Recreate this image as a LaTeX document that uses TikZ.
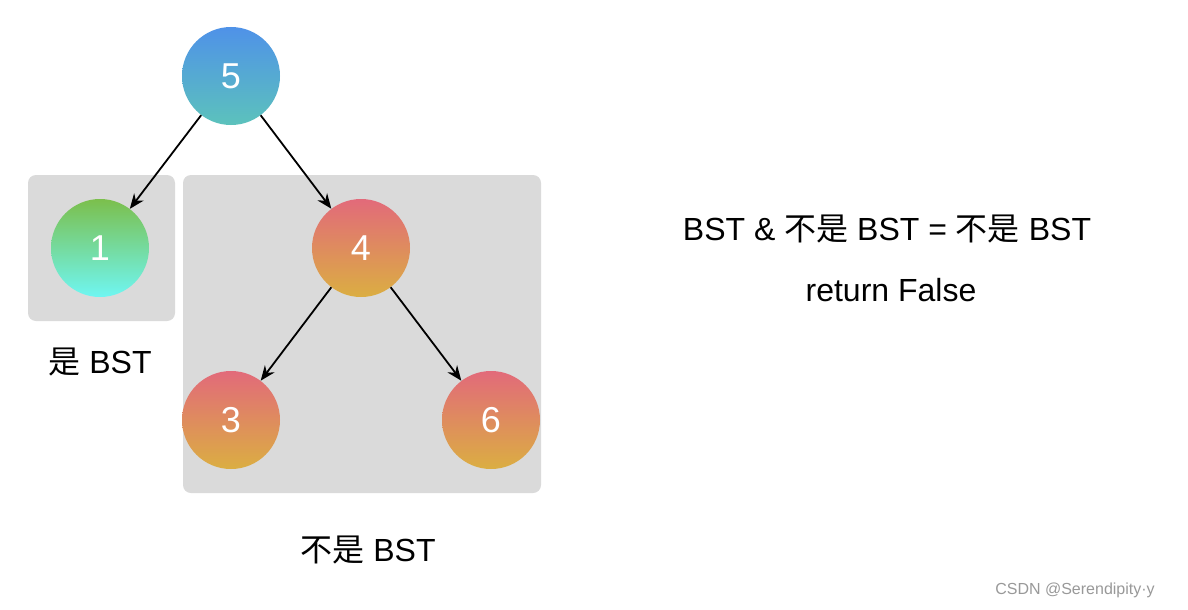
\documentclass[tikz,border=0pt]{standalone}
\usepackage{fontspec}
\setmainfont{Liberation Sans}
\newfontfamily\cjk{Noto Sans CJK SC}
\usetikzlibrary{arrows.meta}
\begin{document}
\begin{tikzpicture}[x=1pt,y=-1pt,
  nd/.style={circle,minimum size=98pt,inner sep=0pt,text=white,font=\fontsize{36}{40}\selectfont},
  blue/.style={nd,top color=blue5top,bottom color=blue5bot},
  green/.style={nd,top color=green1top,bottom color=green1bot},
  red/.style={nd,top color=redtop,bottom color=redbot},
  box/.style={fill=boxgray,rounded corners=8pt},
  lbl/.style={font=\fontsize{32}{36}\selectfont},
  edge/.style={-{Stealth[length=15pt,width=12pt]},line width=1.8pt}]
\definecolor{blue5top}{HTML}{4F92E8}\definecolor{blue5bot}{HTML}{5CC2BC}
\definecolor{green1top}{HTML}{7BBF4C}\definecolor{green1bot}{HTML}{6FF6F2}
\definecolor{redtop}{HTML}{E26A7A}\definecolor{redbot}{HTML}{DBAE42}
\definecolor{boxgray}{HTML}{DADADA}
\useasboundingbox (0,0) rectangle (1188,610);
\fill[white] (0,0) rectangle (1188,610);
\path[box] (28,175) rectangle (175,321);
\path[box] (183,175) rectangle (541,493);
\node[blue] (n5) at (231,76) {5};
\node[green] (n1) at (100,248) {1};
\node[red] (n4) at (361,248) {4};
\node[red] (n3) at (231,420) {3};
\node[red] (n6) at (491,420) {6};
\draw[edge] (n5) -- (n1);
\draw[edge] (n5) -- (n4);
\draw[edge] (n4) -- (n3);
\draw[edge] (n4) -- (n6);
\node[lbl] (l1) at (100,362) {{\cjk 是} BST};
\node[lbl] (l2) at (368,550) {{\cjk 不是} BST};
\node[lbl] (r1) at (887,229) {BST \& {\cjk 不是} BST = {\cjk 不是} BST};
\node[lbl] (r2) at (891,290) {return False};
\node[font=\fontsize{16}{18}\selectfont,text=gray!80] (wm) at (1075,590) {CSDN @Serendipity·y};
\end{tikzpicture}
\end{document}
